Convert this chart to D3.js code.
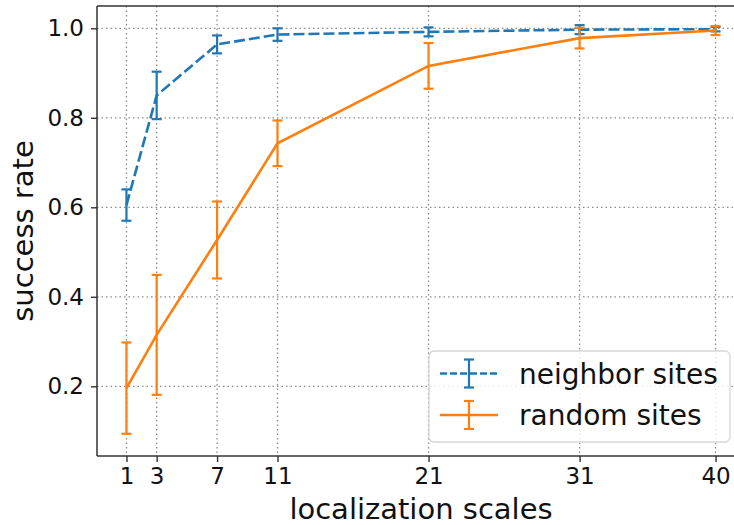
<!doctype html>
<html>
<head>
<meta charset="utf-8">
<script src="https://d3js.org/d3.v7.min.js"></script>
<style>
  body { margin: 0; background: #fff; }
  svg { display: block; font-family: "DejaVu Sans", sans-serif; }
</style>
</head>
<body>
<script>
  // data
  var scales = [1, 3, 7, 11, 21, 31, 40];
  var neighborMean = [0.605, 0.850, 0.964, 0.986, 0.992, 0.997, 0.998];
  var neighborErr  = [0.035, 0.053, 0.020, 0.014, 0.010, 0.010, 0.005];
  var randomMean = [0.196, 0.315, 0.527, 0.743, 0.916, 0.978, 0.995];
  var randomErr  = [0.102, 0.134, 0.086, 0.051, 0.051, 0.023, 0.010];
  var yTicks = [0.2, 0.4, 0.6, 0.8, 1.0];
  var seriesNames = ["neighbor sites", "random sites"];

  var width = 734, height = 525;
  var box = { left: 97, top: 6, right: 745, bottom: 456 };

  var x = d3.scaleLinear().domain([-0.95, 41.95]).range([box.left, box.right]);
  var y = d3.scaleLinear().domain([0.0443, 1.0498]).range([box.bottom, box.top]);

  var svg = d3.select("body").append("svg")
      .attr("width", width).attr("height", height);

  // grid
  var grid = svg.append("g").attr("class", "grid")
      .attr("stroke", "#8c8c8c").attr("stroke-width", 1.3)
      .attr("stroke-dasharray", "1.5,3");
  grid.selectAll(".gx").data(scales).enter().append("line")
      .attr("x1", d => x(d)).attr("x2", d => x(d))
      .attr("y1", box.top).attr("y2", box.bottom);
  grid.selectAll(".gy").data(yTicks).enter().append("line")
      .attr("y1", d => y(d)).attr("y2", d => y(d))
      .attr("x1", box.left).attr("x2", box.right);

  // axes
  var xAxis = svg.append("g")
      .attr("transform", "translate(0," + box.bottom + ")")
      .call(d3.axisBottom(x).tickValues(scales).tickSize(6).tickPadding(6).tickFormat(d3.format("d")));
  var yAxis = svg.append("g")
      .attr("transform", "translate(" + box.left + ",0)")
      .call(d3.axisLeft(y).tickValues(yTicks).tickSize(6).tickPadding(7).tickFormat(d3.format(".1f")));
  [xAxis, yAxis].forEach(function(a){
    a.select(".domain").remove();
    a.selectAll(".tick line").attr("stroke", "#333").attr("stroke-width", 1.4);
    a.selectAll(".tick text").attr("font-size", 23).attr("fill", "#111")
      .attr("font-family", "DejaVu Sans");
  });
  xAxis.selectAll(".tick text").attr("dy", "0.71em");

  // spines (left, bottom, top; right one falls outside the picture)
  var sp = svg.append("g").attr("stroke", "#333").attr("stroke-width", 1.5).attr("fill", "none");
  sp.append("line").attr("x1", box.left).attr("x2", box.left).attr("y1", box.top).attr("y2", box.bottom);
  sp.append("line").attr("x1", box.left).attr("x2", box.right).attr("y1", box.bottom).attr("y2", box.bottom);
  sp.append("line").attr("x1", box.left).attr("x2", box.right).attr("y1", box.top).attr("y2", box.top);

  // series
  function drawSeries(mean, err, color, dash){
    var g = svg.append("g");
    var pts = scales.map(function(s, i){ return [s, mean[i], err[i]]; });
    var line = d3.line().x(d => x(d[0])).y(d => y(d[1]));
    g.append("path").attr("d", line(pts))
      .attr("fill", "none").attr("stroke", color).attr("stroke-width", 2.6)
      .attr("stroke-dasharray", dash);
    var eb = g.selectAll(".eb").data(pts).enter().append("g")
      .attr("stroke", color).attr("stroke-width", 2.2);
    eb.append("line")
      .attr("x1", d => x(d[0])).attr("x2", d => x(d[0]))
      .attr("y1", d => y(d[1] - d[2])).attr("y2", d => y(d[1] + d[2]));
    eb.append("line")
      .attr("x1", d => x(d[0]) - 5).attr("x2", d => x(d[0]) + 5)
      .attr("y1", d => y(d[1] + d[2])).attr("y2", d => y(d[1] + d[2]));
    eb.append("line")
      .attr("x1", d => x(d[0]) - 5).attr("x2", d => x(d[0]) + 5)
      .attr("y1", d => y(d[1] - d[2])).attr("y2", d => y(d[1] - d[2]));
  }
  drawSeries(neighborMean, neighborErr, "#1f77b4", "11,4");
  drawSeries(randomMean, randomErr, "#ff7f0e", null);

  // axis labels
  svg.append("text")
    .attr("x", (box.left + box.right) / 2).attr("y", 519)
    .attr("text-anchor", "middle").attr("font-size", 29).attr("fill", "#111")
    .text("localization scales");
  svg.append("text")
    .attr("transform", "translate(33," + ((box.top + box.bottom) / 2) + ") rotate(-90)")
    .attr("text-anchor", "middle").attr("font-size", 29).attr("fill", "#111")
    .text("success rate");

  // legend
  var leg = svg.append("g");
  leg.append("rect")
    .attr("x", 429).attr("y", 351).attr("width", 301).attr("height", 91)
    .attr("rx", 5).attr("fill", "#fff").attr("fill-opacity", 0.8)
    .attr("stroke", "#d6d6d6").attr("stroke-width", 1.3);
  var legColors = ["#1f77b4", "#ff7f0e"];
  var legDash = ["7,3", null];
  seriesNames.forEach(function(name, i){
    var cy = 373.5 + i * 41.5;
    var row = leg.append("g").attr("stroke", legColors[i]);
    row.append("line").attr("x1", 440).attr("x2", 498).attr("y1", cy).attr("y2", cy)
      .attr("stroke-width", 2.6).attr("stroke-dasharray", legDash[i]);
    row.append("line").attr("x1", 469).attr("x2", 469).attr("y1", cy - 14).attr("y2", cy + 14)
      .attr("stroke-width", 2.2);
    row.append("line").attr("x1", 464).attr("x2", 474).attr("y1", cy - 14).attr("y2", cy - 14)
      .attr("stroke-width", 2.2);
    row.append("line").attr("x1", 464).attr("x2", 474).attr("y1", cy + 14).attr("y2", cy + 14)
      .attr("stroke-width", 2.2);
    leg.append("text").attr("x", 519).attr("y", cy + 10)
      .attr("font-size", 28).attr("fill", "#111").text(name);
  });
</script>
</body>
</html>
